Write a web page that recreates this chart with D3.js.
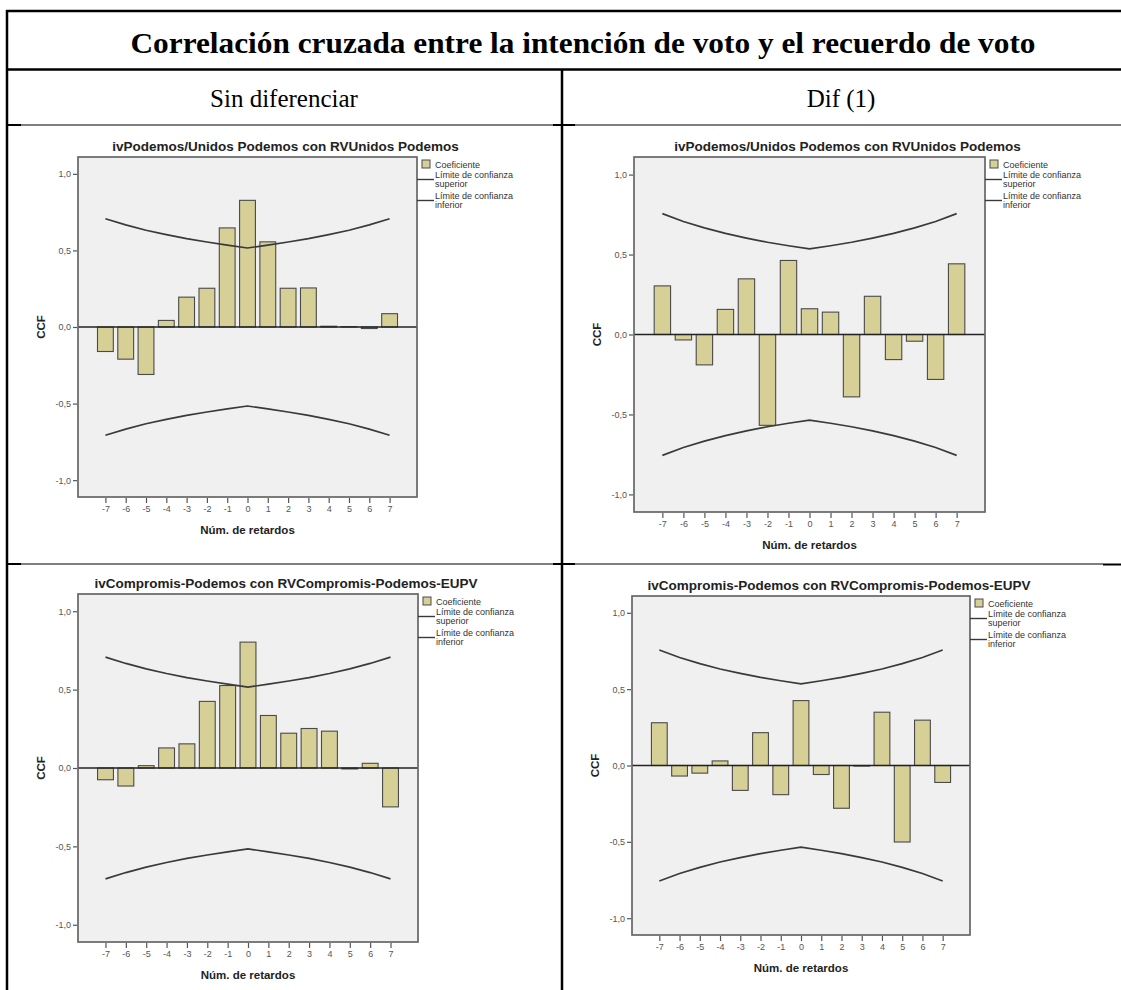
<!DOCTYPE html>
<html><head><meta charset="utf-8">
<script src="https://cdn.jsdelivr.net/npm/d3@7"></script>
<style>body{margin:0;background:#fff}svg{display:block}</style>
</head><body>
<svg id="c" width="1121" height="990"></svg>
<script>
// ---- data ----
const lags = [-7,-6,-5,-4,-3,-2,-1,0,1,2,3,4,5,6,7];
const ccfPodemosSin = [-0.16,-0.21,-0.31,0.043,0.195,0.253,0.647,0.827,0.556,0.253,0.255,0.005,0.002,-0.01,0.087];
const ccfPodemosDif = [0.304,-0.034,-0.19,0.157,0.348,-0.568,0.463,0.161,0.14,-0.39,0.239,-0.157,-0.042,-0.281,0.442];
const ccfCompromisSin = [-0.075,-0.115,0.015,0.128,0.154,0.425,0.526,0.803,0.335,0.222,0.252,0.235,-0.006,0.03,-0.248];
const ccfCompromisDif = [0.28,-0.069,-0.05,0.03,-0.163,0.215,-0.191,0.425,-0.059,-0.28,-0.004,0.349,-0.501,0.297,-0.111];
const limitSin = [0.707,0.667,0.632,0.603,0.577,0.555,0.535,0.516,0.535,0.555,0.577,0.603,0.632,0.667,0.707];
const limitDif = [0.756,0.707,0.667,0.632,0.603,0.577,0.555,0.535,0.555,0.577,0.603,0.632,0.667,0.707,0.756];
const yTickValues = [1,0.5,0,-0.5,-1];
const yTickLabels = ["1,0","0,5","0,0","-0,5","-1,0"];
const legendLabels = ["Coeficiente","Límite de confianza","superior","Límite de confianza","inferior"];
const tableTitle = "Correlación cruzada entre la intención de voto y el recuerdo de voto";
const columnHeaders = ["Sin diferenciar","Dif (1)"];
const chartTitles = ["ivPodemos/Unidos Podemos con RVUnidos Podemos","ivCompromis-Podemos con RVCompromis-Podemos-EUPV"];
const xAxisTitle = "Núm. de retardos";
const yAxisTitle = "CCF";

const svg = d3.select("#c");
const SANS = "Arial, 'Liberation Sans', sans-serif";
const SERIF = "'Times New Roman', 'Liberation Serif', serif";

// ---- table ----
const T = svg.append("g");
function hl(y, x0, x1, w, c){T.append("line").attr("x1",x0).attr("x2",x1).attr("y1",y).attr("y2",y).attr("stroke",c).attr("stroke-width",w);}
function vl(x, y0, y1, w, c){T.append("line").attr("x1",x).attr("x2",x).attr("y1",y0).attr("y2",y1).attr("stroke",c).attr("stroke-width",w);}
hl(11, 6, 1121, 2.5, "#000");
hl(69.5, 6, 1121, 2.5, "#000");
vl(7, 10, 990, 2.5, "#000");
vl(562, 69, 990, 2.5, "#000");
hl(125, 7, 1121, 1.3, "#555");
hl(125, 7, 21, 2, "#000"); hl(125, 553, 575, 2, "#000");
hl(564, 7, 1103, 1.3, "#555");
hl(564, 7, 21, 2, "#000"); hl(564, 553, 575, 2, "#000"); hl(564.5, 1103, 1121, 2, "#000");

T.append("text").attr("x", 583).attr("y", 53).attr("text-anchor","middle")
  .attr("font-family", SERIF).attr("font-weight","bold").attr("font-size", 29)
  .attr("textLength", 905).attr("lengthAdjust", "spacingAndGlyphs").text(tableTitle);
T.append("text").attr("x", 284).attr("y", 107).attr("text-anchor","middle")
  .attr("font-family", SERIF).attr("font-size", 25).text(columnHeaders[0]);
T.append("text").attr("x", 841).attr("y", 107).attr("text-anchor","middle")
  .attr("font-family", SERIF).attr("font-size", 25).text(columnHeaders[1]);

// ---- panels ----
const panels = [
  {title: chartTitles[0], values: ccfPodemosSin, limits: limitSin, x0: 78, x1: 417, y0: 157, y1: 497},
  {title: chartTitles[0], values: ccfPodemosDif, limits: limitDif, x0: 634, x1: 985, y0: 157, y1: 512},
  {title: chartTitles[1], values: ccfCompromisSin, limits: limitSin, x0: 78, x1: 418, y0: 594, y1: 942},
  {title: chartTitles[1], values: ccfCompromisDif, limits: limitDif, x0: 632, x1: 970, y0: 596, y1: 935}
];

panels.forEach(p => {
  const g = svg.append("g");
  const x = d3.scaleLinear().domain([-8.35, 8.35]).range([p.x0, p.x1]);
  const y = d3.scaleLinear().domain([-1.11, 1.11]).range([p.y1, p.y0]);
  const step = x(1) - x(0);
  const bw = step * 0.78;

  g.append("rect").attr("x", p.x0).attr("y", p.y0).attr("width", p.x1 - p.x0).attr("height", p.y1 - p.y0)
    .attr("fill", "#f0f0f0");

  g.selectAll("rect.bar").data(lags.map((l, i) => ({l, v: p.values[i]}))).enter().append("rect")
    .attr("class","bar")
    .attr("x", d => x(d.l) - bw/2).attr("width", bw)
    .attr("y", d => Math.min(y(d.v), y(0))).attr("height", d => Math.abs(y(d.v) - y(0)))
    .attr("fill", "#d6cf96").attr("stroke", "#4a4a4a").attr("stroke-width", 1.1);

  g.append("line").attr("x1", p.x0).attr("x2", p.x1).attr("y1", y(0)).attr("y2", y(0))
    .attr("stroke", "#222").attr("stroke-width", 1.3);

  const up = d3.line().x((d, i) => x(lags[i])).y(d => y(d));
  const lo = d3.line().x((d, i) => x(lags[i])).y(d => y(-d));
  g.append("path").attr("d", up(p.limits)).attr("fill","none").attr("stroke","#3a3a3a").attr("stroke-width",1.7);
  g.append("path").attr("d", lo(p.limits)).attr("fill","none").attr("stroke","#3a3a3a").attr("stroke-width",1.7);

  g.append("rect").attr("x", p.x0).attr("y", p.y0).attr("width", p.x1 - p.x0).attr("height", p.y1 - p.y0)
    .attr("fill", "none").attr("stroke", "#666").attr("stroke-width", 1.7);

  const ya = g.append("g").attr("transform", `translate(${p.x0 - 1},0)`)
    .call(d3.axisLeft(y).tickValues(yTickValues).tickSize(4).tickPadding(2)
      .tickFormat(d => yTickLabels[yTickValues.indexOf(d)]));
  ya.select(".domain").remove();
  ya.selectAll("line").attr("stroke", "#555").attr("stroke-width", 1.2);
  ya.selectAll("text").attr("font-family", SANS).attr("font-size", 9).attr("fill", "#555");

  const xa = g.append("g").attr("transform", `translate(0,${p.y1 + 1})`)
    .call(d3.axisBottom(x).tickValues(lags).tickSize(5).tickPadding(3).tickFormat(d => String(d)));
  xa.select(".domain").remove();
  xa.selectAll("line").attr("stroke", "#555").attr("stroke-width", 1.2);
  xa.selectAll("text").attr("font-family", SANS).attr("font-size", 9).attr("fill", "#555");

  const cx = (p.x0 + p.x1) / 2;
  g.append("text").attr("x", cx + 38).attr("y", p.y0 - 6).attr("text-anchor","middle")
    .attr("font-family", SANS).attr("font-weight","bold").attr("font-size", 13.5).attr("fill","#222").text(p.title);
  g.append("text").attr("x", cx).attr("y", p.y1 + 37).attr("text-anchor","middle")
    .attr("font-family", SANS).attr("font-weight","bold").attr("font-size", 11.5).attr("fill","#222").text(xAxisTitle);
  g.append("text").attr("transform", `translate(${p.x0 - 33},${y(0)}) rotate(-90)`).attr("text-anchor","middle")
    .attr("font-family", SANS).attr("font-weight","bold").attr("font-size", 11.5).attr("fill","#222").text(yAxisTitle);

  const lx = p.x1;
  g.append("rect").attr("x", lx + 5).attr("y", p.y0 + 3).attr("width", 8).attr("height", 8)
    .attr("fill", "#d6cf96").attr("stroke", "#4a4a4a").attr("stroke-width", 1);
  const lt = (t, dy) => g.append("text").attr("x", lx + 18).attr("y", p.y0 + dy)
    .attr("font-family", SANS).attr("font-size", 9).attr("fill", "#333").text(t);
  lt(legendLabels[0], 11);
  lt(legendLabels[1], 21);
  lt(legendLabels[2], 30);
  lt(legendLabels[3], 42);
  lt(legendLabels[4], 51);
  g.append("line").attr("x1", lx).attr("x2", lx + 17).attr("y1", p.y0 + 22.5).attr("y2", p.y0 + 22.5)
    .attr("stroke", "#3a3a3a").attr("stroke-width", 1.4);
  g.append("line").attr("x1", lx).attr("x2", lx + 17).attr("y1", p.y0 + 43.5).attr("y2", p.y0 + 43.5)
    .attr("stroke", "#3a3a3a").attr("stroke-width", 1.4);
});
</script>
</body></html>
